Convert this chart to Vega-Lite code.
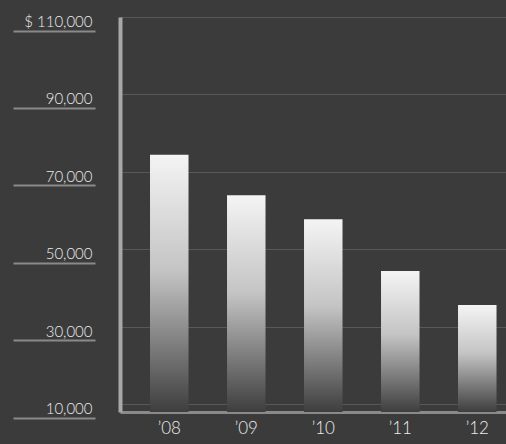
{
  "$schema": "https://vega.github.io/schema/vega-lite/v6.json",
  "autosize": {"type": "none"},
  "padding": {"left": 120, "top": 17, "right": 0, "bottom": 32},
  "width": 386,
  "height": 395,
  "background": "#3b3b3b",
  "config": {
    "view": {"stroke": null},
    "font": "Lato",
    "axis": {"labelFont": "Lato", "labelFontWeight": 300, "labelColor": "#ececec"}
  },
  "data": {
    "values": [
      {"year": "’08", "amount": 74400},
      {"year": "’09", "amount": 64000},
      {"year": "’10", "amount": 57800},
      {"year": "’11", "amount": 44400},
      {"year": "’12", "amount": 35600}
    ]
  },
  "resolve": {"axis": {"y": "independent"}},
  "layer": [
    {
      "mark": {
        "type": "bar",
        "color": {
          "gradient": "linear",
          "x1": 0, "y1": 0, "x2": 0, "y2": 1,
          "stops": [
            {"offset": 0, "color": "#f4f4f4"},
            {"offset": 0.45, "color": "#c4c4c4"},
            {"offset": 1, "color": "#3e3e3e"}
          ]
        }
      },
      "encoding": {
        "x": {
          "field": "year",
          "type": "nominal",
          "sort": null,
          "scale": {"paddingInner": 0.5, "paddingOuter": 0.2565, "align": 0.76},
          "axis": {
            "title": null,
            "labelAngle": 0,
            "labelFontSize": 17,
            "labelPadding": 8,
            "ticks": false,
            "domainColor": "#8a8a8a",
            "domainWidth": 3
          }
        },
        "y": {
          "field": "amount",
          "type": "quantitative",
          "scale": {"domain": [8000, 110000], "zero": false, "nice": false},
          "axis": {
            "title": null,
            "values": [10000, 30000, 50000, 70000, 90000, 110000],
            "labelExpr": "datum.value == 110000 ? '$  110,000' : format(datum.value, ',d')",
            "labelFontSize": 15,
            "labelPadding": 28,
            "labelOffset": 4.5,
            "ticks": false,
            "domainColor": "#a8a8a8",
            "domainWidth": 4,
            "grid": true,
            "gridColor": "#585858",
            "gridWidth": 1
          }
        },
        "y2": {"datum": 8000}
      }
    },
    {
      "mark": {"type": "point", "opacity": 0},
      "encoding": {
        "x": {"field": "year", "type": "nominal", "sort": null},
        "y": {
          "field": "amount",
          "type": "quantitative",
          "axis": {
            "orient": "left",
            "offset": 25,
            "title": null,
            "values": [10000, 30000, 50000, 70000, 90000, 110000],
            "labels": false,
            "domain": false,
            "grid": false,
            "ticks": true,
            "tickSize": 82,
            "tickOffset": 13.5,
            "tickColor": "#8a8a8a",
            "tickWidth": 2
          }
        }
      }
    }
  ]
}
